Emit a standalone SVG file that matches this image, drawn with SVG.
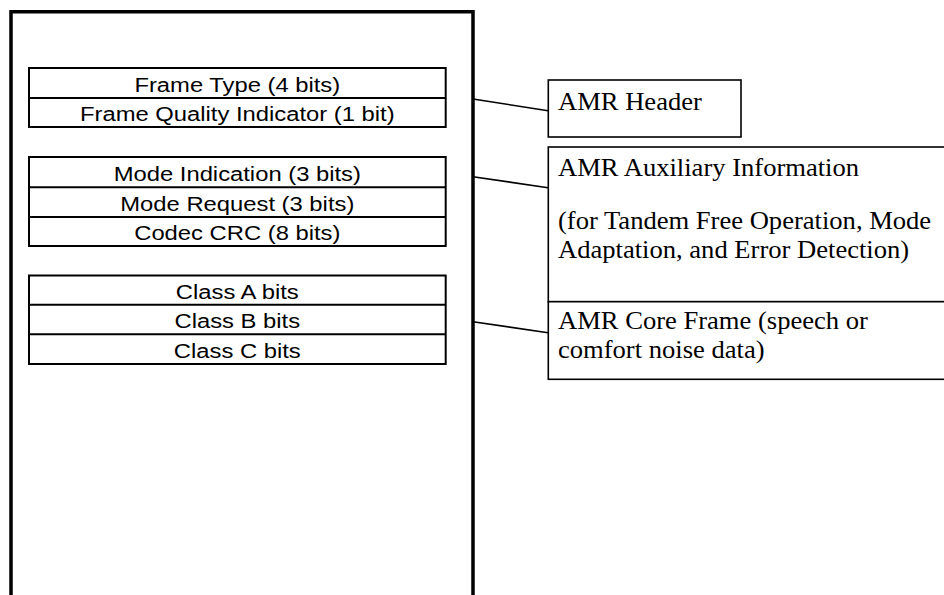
<svg xmlns="http://www.w3.org/2000/svg" width="944" height="595" viewBox="0 0 944 595">
  <style>
    .frame { fill: none; stroke: #000; stroke-width: 3.5; }
    .field { fill: #fff; stroke: #000; stroke-width: 2; }
    .sep { stroke: #000; stroke-width: 2; }
    .label { fill: #fff; stroke: #000; stroke-width: 1.6; }
    .conn { stroke: #000; stroke-width: 1.6; fill: none; }
    .ft { font-family: "Liberation Sans", Arial, sans-serif; font-size: 20px; fill: #000; text-anchor: middle; }
    .lt { font-family: "Liberation Serif", "Times New Roman", serif; font-size: 24.5px; fill: #000; }
  </style>
  <rect width="944" height="595" fill="#fff"/>

  <g id="frame">
    <path class="frame" d="M11,597 V11.7 H473 V597"/>
  </g>

  <g id="header-fields">
    <rect class="field" x="29" y="68" width="416.7" height="59"/>
    <line class="sep" x1="29" y1="98" x2="445.7" y2="98"/>
    <text class="ft" transform="translate(237.3 92) scale(1.19 1)">Frame Type (4 bits)</text>
    <text class="ft" transform="translate(237.3 121) scale(1.19 1)">Frame Quality Indicator (1 bit)</text>
  </g>

  <g id="aux-fields">
    <rect class="field" x="29" y="157" width="416.7" height="89"/>
    <line class="sep" x1="29" y1="187.3" x2="445.7" y2="187.3"/>
    <line class="sep" x1="29" y1="217" x2="445.7" y2="217"/>
    <text class="ft" transform="translate(237.3 181) scale(1.19 1)">Mode Indication (3 bits)</text>
    <text class="ft" transform="translate(237.3 210.5) scale(1.19 1)">Mode Request (3 bits)</text>
    <text class="ft" transform="translate(237.3 240) scale(1.19 1)">Codec CRC (8 bits)</text>
  </g>

  <g id="class-fields">
    <rect class="field" x="29" y="275.5" width="416.7" height="88.5"/>
    <line class="sep" x1="29" y1="304.7" x2="445.7" y2="304.7"/>
    <line class="sep" x1="29" y1="334.3" x2="445.7" y2="334.3"/>
    <text class="ft" transform="translate(237.3 298.5) scale(1.19 1)">Class A bits</text>
    <text class="ft" transform="translate(237.3 328) scale(1.19 1)">Class B bits</text>
    <text class="ft" transform="translate(237.3 357.5) scale(1.19 1)">Class C bits</text>
  </g>

  <g id="connectors">
    <line class="conn" x1="473" y1="99" x2="548" y2="110.7"/>
    <line class="conn" x1="473" y1="176.7" x2="548" y2="187.7"/>
    <line class="conn" x1="473" y1="321.7" x2="548" y2="332.7"/>
  </g>

  <g id="amr-header">
    <rect class="label" x="548.3" y="80" width="192.7" height="57"/>
    <text class="lt" transform="translate(558 109.5) scale(1.085 1)">AMR Header</text>
  </g>

  <g id="amr-aux">
    <rect class="label" x="548.3" y="147" width="420" height="154.7"/>
    <text class="lt" transform="translate(558 175.5) scale(1.085 1)">AMR Auxiliary Information</text>
    <text class="lt" transform="translate(558 229) scale(1.085 1)">(for Tandem Free Operation, Mode</text>
    <text class="lt" transform="translate(558 258) scale(1.085 1)">Adaptation, and Error Detection)</text>
  </g>

  <g id="amr-core">
    <rect class="label" x="548.3" y="301.7" width="420" height="77.6"/>
    <text class="lt" transform="translate(558 329) scale(1.085 1)">AMR Core Frame (speech or</text>
    <text class="lt" transform="translate(558 357.5) scale(1.085 1)">comfort noise data)</text>
  </g>
</svg>
